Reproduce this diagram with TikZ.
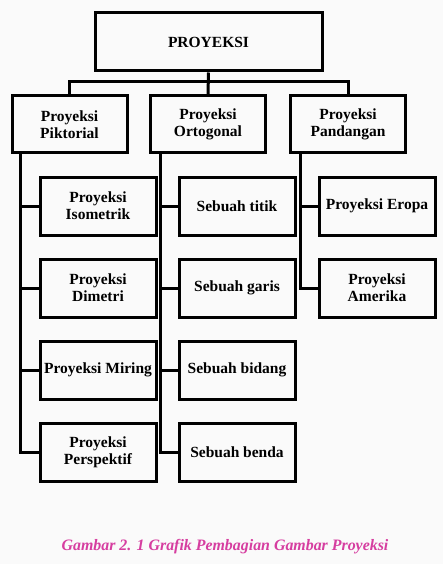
\documentclass[tikz,border=0pt]{standalone}
\usepackage{fontspec}
\setmainfont{Liberation Serif}
\usepackage{tikz}
\definecolor{capmagenta}{RGB}{214, 62, 160}
\definecolor{bggray}{RGB}{250, 250, 250}

\tikzset{
  kotak/.style={draw, line width=3pt, align=center, inner sep=0pt,
    minimum width=115pt, minimum height=57pt,
    font=\bfseries\fontsize{15.5}{17}\selectfont},
  garis/.style={line width=3pt}
}

\begin{document}
\begin{tikzpicture}[x=1pt, y=-1pt]
\fill[bggray] (0,0) rectangle (443,564);
\useasboundingbox (0,0) rectangle (443,564);

% top
\node[kotak, minimum width=227pt, minimum height=58pt] (proy) at (208.5,42) {PROYEKSI};

% second row
\node[kotak] (pik) at (69.5,124.5) {Proyeksi\\Piktorial};
\node[kotak] (ort) at (208,124.5) {Proyeksi\\Ortogonal};
\node[kotak] (pan) at (348,124.5) {Proyeksi\\Pandangan};

\draw[garis] (proy.south) -- (ort.north);
\draw[garis] (pik.north) |- ([yshift=13pt]ort.north) -| (pan.north);

% Piktorial children
\node[kotak, minimum width=116pt, minimum height=58pt] (iso) at (98,206) {Proyeksi\\Isometrik};
\node[kotak, minimum width=116pt, minimum height=58pt] (dim) at (98,288) {Proyeksi\\Dimetri};
\node[kotak, minimum width=116pt, minimum height=58pt] (mir) at (98,370) {Proyeksi Miring};
\node[kotak, minimum width=116pt, minimum height=58pt] (per) at (98,452) {Proyeksi\\Perspektif};

% Ortogonal children
\node[kotak, minimum width=116pt, minimum height=58pt] (tit) at (237,206) {Sebuah titik};
\node[kotak, minimum width=116pt, minimum height=58pt] (gar) at (237,288) {Sebuah garis};
\node[kotak, minimum width=116pt, minimum height=58pt] (bid) at (237,370) {Sebuah bidang};
\node[kotak, minimum width=116pt, minimum height=58pt] (ben) at (237,452) {Sebuah benda};

% Pandangan children
\node[kotak, minimum width=116pt, minimum height=58pt] (ero) at (377,206) {Proyeksi Eropa};
\node[kotak, minimum width=116pt, minimum height=58pt] (ame) at (377,288) {Proyeksi\\Amerika};

% connectors
\coordinate (pikx) at ([xshift=10pt]pik.south west);
\coordinate (ortx) at ([xshift=11pt]ort.south west);
\coordinate (panx) at ([xshift=11pt]pan.south west);
\draw[garis] (pikx) |- (per.west);
\foreach \c in {iso,dim,mir} {
  \draw[garis] (pikx |- \c.west) -- (\c.west);
}
\draw[garis] (ortx) |- (ben.west);
\foreach \c in {tit,gar,bid} {
  \draw[garis] (ortx |- \c.west) -- (\c.west);
}
\draw[garis] (panx) |- (ame.west);
\draw[garis] (panx |- ero.west) -- (ero.west);

% caption
\node[text=capmagenta, font=\bfseries\itshape\fontsize{15.9}{18}\selectfont] (cap) at (225,547) {Gambar 2. 1 Grafik Pembagian Gambar Proyeksi};
\end{tikzpicture}
\end{document}
